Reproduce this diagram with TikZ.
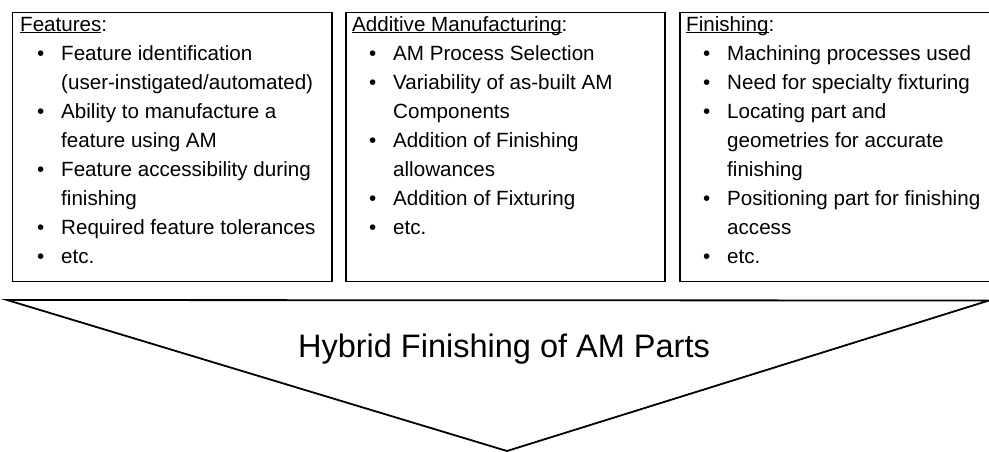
\documentclass[tikz,border=0pt]{standalone}
\usepackage{fontspec}
\setmainfont{Liberation Sans}
\newcommand\hdrline[1]{\leavevmode\setbox0\hbox{#1}\rlap{\rule[-2.2pt]{\wd0}{1.1pt}}\box0}
\newcommand\bl[1]{\par\noindent\hspace*{17pt}\makebox[24pt][l]{•}#1}
\newcommand\cl[1]{\par\noindent\hspace*{41pt}#1}
\newenvironment{boxtext}{\begin{minipage}[t]{330pt}\fontsize{20.6pt}{29pt}\selectfont\parskip=0pt\parindent=0pt}{\end{minipage}}
\tikzset{
  panel/.style={draw=black, line width=1.8pt, rectangle, inner sep=0pt, anchor=north west},
  paneltext/.style={anchor=base west, inner sep=0pt},
  funnel/.style={draw=black, line width=1.8pt, line join=miter},
  titletext/.style={anchor=base, inner sep=0pt, font=\fontsize{32.5pt}{36pt}\selectfont}
}
\begin{document}
\begin{tikzpicture}[x=1pt,y=-1pt]
\useasboundingbox (0,0) rectangle (989,451);
\clip (0,0) rectangle (989,451);
% panels
\node[panel, minimum width=319.5pt, minimum height=269pt] (feat) at (11.5,11.5) {};
\node[panel, minimum width=319pt, minimum height=269pt] (am) at (345,11.5) {};
\node[panel, minimum width=315pt, minimum height=269pt] (fin) at (679,11.5) {};
% texts
\node[paneltext] (feattxt) at (20,31) {\begin{boxtext}
\hdrline{Features}:
\bl{Feature identification}
\cl{(user-instigated/automated)}
\bl{Ability to manufacture a}
\cl{feature using AM}
\bl{Feature accessibility during}
\cl{finishing}
\bl{Required feature tolerances}
\bl{etc.}
\end{boxtext}};
\node[paneltext] (amtxt) at (352,31) {\begin{boxtext}
\hdrline{Additive Manufacturing}:
\bl{AM Process Selection}
\bl{Variability of as-built AM}
\cl{Components}
\bl{Addition of Finishing}
\cl{allowances}
\bl{Addition of Fixturing}
\bl{etc.}
\end{boxtext}};
\node[paneltext] (fintxt) at (686,31) {\begin{boxtext}
\hdrline{Finishing}:
\bl{Machining processes used}
\bl{Need for specialty fixturing}
\bl{Locating part and}
\cl{geometries for accurate}
\cl{finishing}
\bl{Positioning part for finishing}
\cl{access}
\bl{etc.}
\end{boxtext}};
% funnel
\coordinate (tl) at (7,300);
\coordinate (tr) at (989,300.5);
\coordinate (ap) at (507,451);
\draw[funnel] (tl) -- (tr) -- (ap) -- cycle;
\node[titletext] (title) at (504,357) {Hybrid Finishing of AM Parts};
\end{tikzpicture}
\end{document}
